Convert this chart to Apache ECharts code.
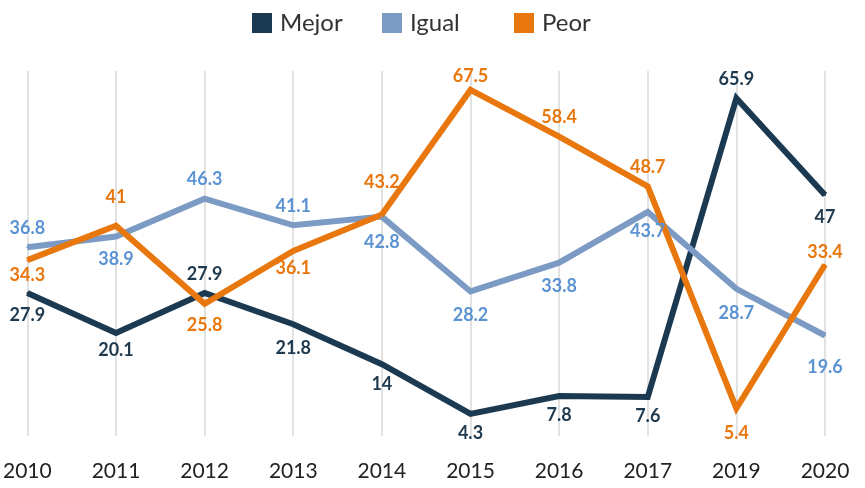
<!DOCTYPE html>
<html><head><meta charset="utf-8">
<script src="https://cdn.jsdelivr.net/npm/echarts@6/dist/echarts.min.js"></script>
<style>html,body{margin:0;padding:0;background:#fff}#c{width:865px;height:488px}</style>
</head><body><div id="c"></div>
<script>
const categories = ['2010','2011','2012','2013','2014','2015','2016','2017','2019','2020'];
const mejor = [27.9, 20.1, 27.9, 21.8, 14, 4.3, 7.8, 7.6, 65.9, 47];
const igual = [36.8, 38.9, 46.3, 41.1, 42.8, 28.2, 33.8, 43.7, 28.7, 19.6];
const peor  = [34.3, 41, 25.8, 36.1, 43.2, 67.5, 58.4, 48.7, 5.4, 33.4];
const mejorPos = ['bottom','bottom','top','bottom','bottom','bottom','bottom','bottom','top','bottom'];
const igualPos = ['top','bottom','top','top','bottom','bottom','bottom','bottom','bottom','bottom'];
const peorPos  = ['bottom','top','bottom','bottom','top','top','top','top','bottom','top'];
const mejorDist = [12, 7, 9, 14, 10, 9, 9, 9, 9, 12];
const igualDist = [9, 13, 9, 9, 16, 14, 13, 9, 14, 22];
const peorDist  = [5, 19, 11, 7, 22, 4, 9, 9, 15, 3];

const C_MEJOR = '#1b3a52', C_IGUAL = '#7b9bc4', C_PEOR = '#e8770e';
const L_MEJOR = '#1f3a4f', L_IGUAL = '#5b93d3', L_PEOR = '#e8770e';

function mk(name, vals, pos, color, lcolor, dist) {
  return {
    name, type: 'line', data: vals.map((v, i) => ({
      value: v,
      label: { position: pos[i], distance: dist[i] }
    })),
    symbol: 'circle', symbolSize: 2, showSymbol: true, smooth: false,
    lineStyle: { width: 6, color, join: 'miter' },
    itemStyle: { color },
    label: { show: true, color: lcolor, fontSize: 18, fontWeight: 'bold', fontFamily: 'Lato' },
    labelLayout: { hideOverlap: false, moveOverlap: null },
    emphasis: { disabled: true }
  };
}

const chart = echarts.init(document.getElementById('c'));
const legendBase = { top: 6, itemWidth: 20, itemHeight: 20, icon: 'rect',
  textStyle: { fontSize: 24, color: '#333', fontFamily: 'Lato', padding: [0, 0, 0, 3] } };
chart.setOption({
  animation: false,
  legend: [
    Object.assign({}, legendBase, { left: 247, data: ['Mejor'] }),
    Object.assign({}, legendBase, { left: 377, data: ['Igual'] }),
    Object.assign({}, legendBase, { left: 509, data: ['Peor'] })
  ],
  grid: { left: 25, right: 40, top: 71, bottom: 52, containLabel: false },
  xAxis: {
    type: 'category', data: categories, boundaryGap: false,
    axisLine: { show: false }, axisTick: { show: false },
    axisLabel: { fontSize: 21, color: '#222', fontFamily: 'Lato', margin: 25 },
    splitLine: { show: true, lineStyle: { color: '#d9d9d9', width: 1.5 } }
  },
  yAxis: { type: 'value', min: 0, max: 71.2, show: false, splitLine: { show: false } },
  series: [
    mk('Mejor', mejor, mejorPos, C_MEJOR, L_MEJOR, mejorDist),
    mk('Igual', igual, igualPos, C_IGUAL, L_IGUAL, igualDist),
    mk('Peor', peor, peorPos, C_PEOR, L_PEOR, peorDist)
  ]
});
</script></body></html>
